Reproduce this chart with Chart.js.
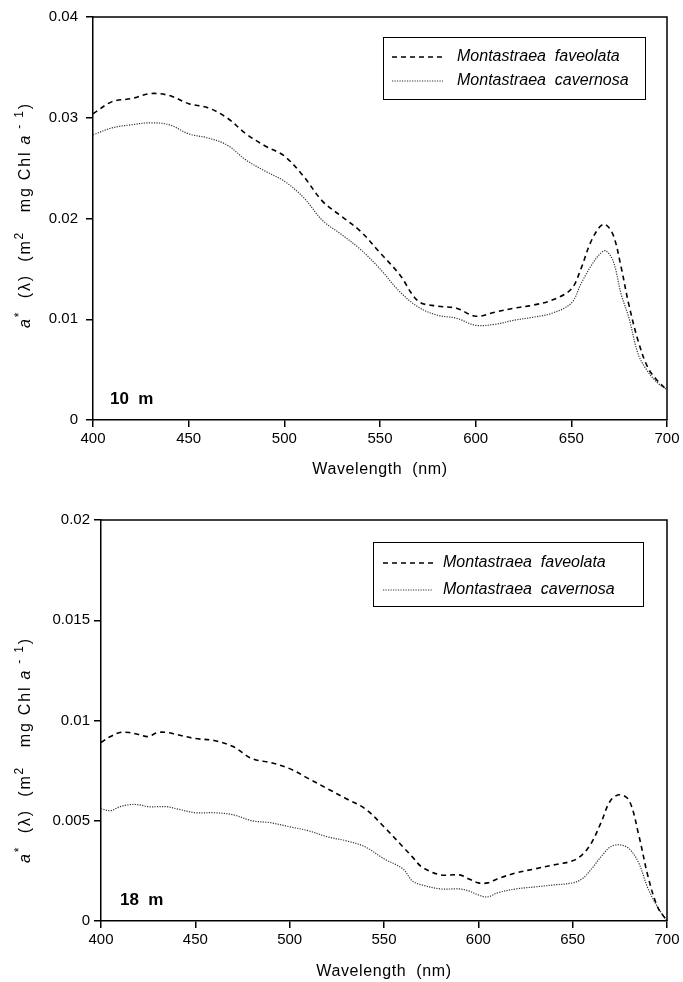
<!DOCTYPE html>
<html>
<head>
<meta charset="utf-8">
<script src="https://cdn.jsdelivr.net/npm/chart.js@4"></script>
<style>
  html, body { margin: 0; padding: 0; background: #fff; }
  .panel { position: absolute; left: 0; width: 683px; }
  #top { top: 0; height: 491px; }
  #bottom { top: 491px; height: 491px; }
</style>
</head>
<body>
<div class="panel" id="top"><canvas id="chart10"></canvas></div>
<div class="panel" id="bottom"><canvas id="chart18"></canvas></div>
<script>
// 10 m panel
const wl10 = [400, 410, 420, 430, 440, 450, 460, 470, 480, 490, 500, 510, 520, 530, 540, 550, 560, 570, 580, 590, 600, 610, 620, 630, 640, 650, 655, 660, 665, 668, 672, 676, 680, 685, 690, 695, 700];
const fav10 = [0.0304, 0.0316, 0.0319, 0.0324, 0.0322, 0.0314, 0.0310, 0.0300, 0.0284, 0.0272, 0.0262, 0.0242, 0.0217, 0.0202, 0.0187, 0.0166, 0.0145, 0.0118, 0.0113, 0.0111, 0.0103, 0.0107, 0.0111, 0.0114, 0.0119, 0.0130, 0.0150, 0.0176, 0.0192, 0.0194, 0.0183, 0.0152, 0.0115, 0.0078, 0.0052, 0.0039, 0.0030];
const cav10 = [0.0283, 0.0290, 0.0293, 0.0295, 0.0293, 0.0284, 0.0280, 0.0273, 0.0258, 0.0247, 0.0237, 0.0221, 0.0198, 0.0184, 0.0169, 0.0150, 0.0128, 0.0112, 0.0104, 0.0101, 0.0094, 0.0095, 0.0099, 0.0102, 0.0106, 0.0116, 0.0135, 0.0152, 0.0165, 0.0168, 0.0157, 0.0125, 0.0102, 0.0065, 0.0048, 0.0037, 0.0030];

// 18 m panel
const wl18 = [400, 405, 410, 415, 420, 425, 430, 435, 440, 450, 460, 470, 480, 490, 500, 510, 520, 530, 540, 550, 560, 565, 570, 580, 590, 595, 600, 605, 610, 620, 630, 640, 650, 655, 660, 665, 670, 675, 680, 685, 690, 695, 700];
const fav18 = [0.0089, 0.0092, 0.0094, 0.0094, 0.0093, 0.0092, 0.0094, 0.0094, 0.0093, 0.0091, 0.0090, 0.0087, 0.0081, 0.0079, 0.0076, 0.0071, 0.0066, 0.0061, 0.0056, 0.0047, 0.0037, 0.0032, 0.0027, 0.0023, 0.0023, 0.0021, 0.0019, 0.0019, 0.0021, 0.0024, 0.0026, 0.0028, 0.0030, 0.0033, 0.0039, 0.0049, 0.0060, 0.0063, 0.0060, 0.0043, 0.0022, 0.0007, 0.0000];
const cav18 = [0.0056, 0.0055, 0.0057, 0.0058, 0.0058, 0.0057, 0.0057, 0.0057, 0.0056, 0.0054, 0.0054, 0.0053, 0.0050, 0.0049, 0.0047, 0.0045, 0.0042, 0.0040, 0.0037, 0.0031, 0.0026, 0.0020, 0.0018, 0.0016, 0.0016, 0.0015, 0.0013, 0.0012, 0.0014, 0.0016, 0.0017, 0.0018, 0.0019, 0.0021, 0.0026, 0.0032, 0.0037, 0.0038, 0.0036, 0.0029, 0.0016, 0.0007, 0.0000];

const seriesNames = ['Montastraea  faveolata', 'Montastraea  cavernosa'];
const xTicks = [400, 450, 500, 550, 600, 650, 700];
const yTicks10 = [0, 0.01, 0.02, 0.03, 0.04];
const yTicks18 = [0, 0.005, 0.01, 0.015, 0.02];

const FONT = "'Liberation Sans', Arial, Helvetica, sans-serif";

function points(xs, ys) {
  return xs.map((x, i) => ({ x: x, y: ys[i] }));
}

function drawYTitle(ctx, cx, cy) {
  const parts = [
    { t: 'a', it: true }, { t: '*', sup: true }, { t: '  (λ)  (m' }, { t: '2', sup: true },
    { t: '   mg Chl ' }, { t: 'a', it: true }, { t: ' - 1', sup: true }, { t: ')' }
  ];
  ctx.save();
  ctx.translate(cx, cy);
  ctx.rotate(-Math.PI / 2);
  ctx.letterSpacing = '1.8px';
  let total = 0;
  parts.forEach(p => {
    ctx.font = (p.it ? 'italic ' : '') + (p.sup ? '12px ' : '16px ') + FONT;
    p.w = ctx.measureText(p.t).width;
    total += p.w;
  });
  let x = -total / 2;
  ctx.textBaseline = 'middle';
  ctx.textAlign = 'left';
  ctx.fillStyle = '#000';
  parts.forEach(p => {
    ctx.font = (p.it ? 'italic ' : '') + (p.sup ? '12px ' : '16px ') + FONT;
    ctx.fillText(p.t, x, p.sup ? -6 : 0);
    x += p.w;
  });
  ctx.restore();
}

const extras = {
  id: 'extras',
  afterDraw(chart, args, opts) {
    const ctx = chart.ctx;
    const a = chart.chartArea;
    ctx.save();
    // top and right frame
    ctx.strokeStyle = '#000';
    ctx.lineWidth = 1.5;
    ctx.setLineDash([]);
    ctx.beginPath();
    ctx.moveTo(a.left, a.top);
    ctx.lineTo(a.right, a.top);
    ctx.lineTo(a.right, a.bottom);
    ctx.stroke();

    // legend box
    const L = opts.legend;
    ctx.lineWidth = 1;
    ctx.strokeRect(L.x + 0.5, L.y + 0.5, L.w, L.h);
    const ds = chart.data.datasets;
    ds.forEach((d, i) => {
      const yy = L.y + L.rows[i];
      ctx.strokeStyle = d.borderColor;
      ctx.lineWidth = d.borderWidth;
      ctx.setLineDash(d.borderDash);
      ctx.beginPath();
      ctx.moveTo(L.x + L.lineX0, yy);
      ctx.lineTo(L.x + L.lineX1, yy);
      ctx.stroke();
      ctx.setLineDash([]);
      ctx.fillStyle = '#000';
      ctx.font = 'italic 16px ' + FONT;
      ctx.textBaseline = 'middle';
      ctx.textAlign = 'left';
      ctx.fillText(d.label, L.x + L.textX, yy);
    });

    // depth label
    ctx.fillStyle = '#000';
    ctx.font = 'bold 17px ' + FONT;
    ctx.textBaseline = 'middle';
    ctx.textAlign = 'left';
    ctx.fillText(opts.depth, a.left + opts.depthDx, opts.depthY);

    // x title
    ctx.font = '16px ' + FONT;
    ctx.letterSpacing = '0.6px';
    ctx.textAlign = 'center';
    ctx.fillText('Wavelength  (nm)', (a.left + a.right) / 2, opts.xTitleY);
    ctx.letterSpacing = '0px';

    // y title
    drawYTitle(ctx, 26, opts.yTitleY);
    ctx.restore();
  }
};

function makeChart(id, wl, fav, cav, yTicks, yMax, box, extraOpts) {
  return new Chart(document.getElementById(id), {
    type: 'line',
    data: {
      datasets: [
        {
          label: seriesNames[0],
          data: points(wl, fav),
          borderColor: '#000',
          borderWidth: 1.6,
          borderDash: [5, 4],
          pointRadius: 0,
          tension: 0.35,
          fill: false
        },
        {
          label: seriesNames[1],
          data: points(wl, cav),
          borderColor: '#333',
          borderWidth: 1.2,
          borderDash: [1.2, 1.3],
          pointRadius: 0,
          tension: 0.35,
          fill: false
        }
      ]
    },
    options: {
      responsive: true,
      maintainAspectRatio: false,
      animation: false,
      layout: { padding: { left: 0, right: 683 - box.right, top: box.top, bottom: 0 } },
      plugins: {
        legend: { display: false },
        tooltip: { enabled: false },
        extras: extraOpts
      },
      scales: {
        x: {
          type: 'linear',
          min: 400,
          max: 700,
          afterBuildTicks: s => { s.ticks = xTicks.map(v => ({ value: v })); },
          afterFit: s => { s.height = 491 - box.bottom; },
          grid: { display: true, drawOnChartArea: false, drawTicks: true, tickLength: 7, color: '#000', lineWidth: 1.5 },
          border: { display: true, color: '#000', width: 1.5 },
          ticks: { color: '#000', padding: 3, maxRotation: 0, font: { family: FONT, size: 15 } }
        },
        y: {
          type: 'linear',
          min: 0,
          max: yMax,
          afterBuildTicks: s => { s.ticks = yTicks.map(v => ({ value: v })); },
          afterFit: s => { s.width = box.left; },
          grid: { display: true, drawOnChartArea: false, drawTicks: true, tickLength: 7, color: '#000', lineWidth: 1.5 },
          border: { display: true, color: '#000', width: 1.5 },
          ticks: {
            color: '#000',
            padding: box.yPad,
            font: { family: FONT, size: 15 },
            callback: v => v === 0 ? '0' : String(parseFloat(v.toFixed(4)))
          }
        }
      }
    },
    plugins: [extras]
  });
}

makeChart('chart10', wl10, fav10, cav10, yTicks10, 0.04,
  { left: 93, right: 667, top: 17, bottom: 420, yPad: 8 },
  {
    legend: { x: 383, y: 37, w: 262, h: 62, rows: [20, 44], lineX0: 9, lineX1: 60, textX: 74 },
    depth: '10  m', depthDx: 17, depthY: 399, xTitleY: 470, yTitleY: 215
  });

makeChart('chart18', wl18, fav18, cav18, yTicks18, 0.02,
  { left: 101, right: 667, top: 29, bottom: 430, yPad: 4 },
  {
    legend: { x: 373, y: 51, w: 270, h: 64, rows: [21, 48], lineX0: 10, lineX1: 60, textX: 70 },
    depth: '18  m', depthDx: 19, depthY: 409, xTitleY: 481, yTitleY: 259
  });
</script>
</body>
</html>
